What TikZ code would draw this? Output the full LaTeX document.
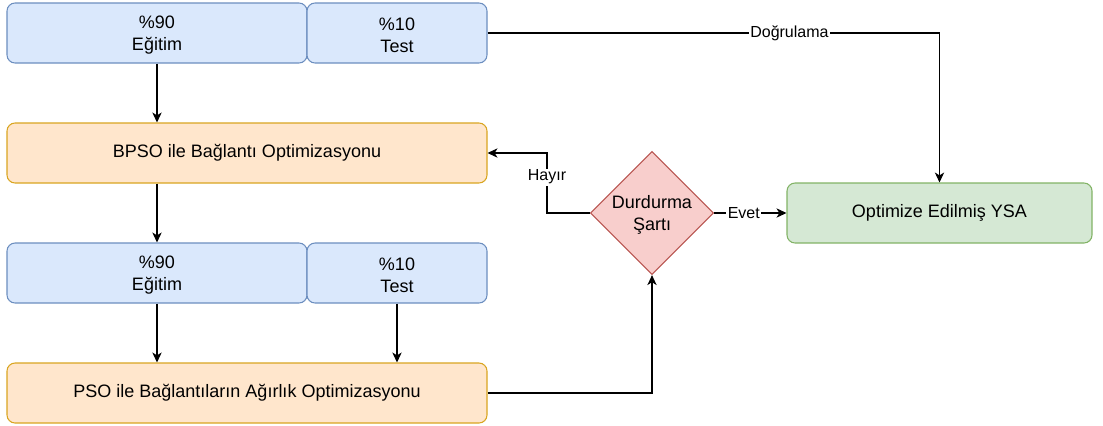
\documentclass[tikz,border=0pt]{standalone}
\usepackage{fontspec}
\setmainfont{Liberation Sans}
\usetikzlibrary{arrows.meta,shapes.geometric,calc}

\definecolor{blueFill}{HTML}{DAE8FC}
\definecolor{blueLine}{HTML}{6C8EBF}
\definecolor{orangeFill}{HTML}{FFE6CC}
\definecolor{orangeLine}{HTML}{D9A520}
\definecolor{greenFill}{HTML}{D5E8D4}
\definecolor{greenLine}{HTML}{82B366}
\definecolor{redFill}{HTML}{F8CECC}
\definecolor{redLine}{HTML}{B85450}

% a tall strut for the first of two text lines, so the pair sits centred
\newcommand{\firststrut}{\rule{0pt}{13pt}}

\tikzset{
  box/.style={rectangle, rounded corners=6pt, line width=0.8pt, align=center,
    minimum height=45pt, inner sep=0pt,
    font=\fontsize{13.5pt}{16.5pt}\selectfont},
  datasplit/.style={box, fill=blueFill, draw=blueLine},
  optbox/.style={box, fill=orangeFill, draw=orangeLine, minimum width=360pt},
  resultbox/.style={box, fill=greenFill, draw=greenLine, minimum width=228.75pt},
  decision/.style={diamond, aspect=1, fill=redFill, draw=redLine, line width=0.8pt,
    align=center, inner sep=0pt, minimum width=90pt, minimum height=90pt,
    font=\fontsize{13.5pt}{16.5pt}\selectfont},
  link/.style={draw=black, line width=0.8pt, -{Stealth[length=7.5pt,width=7pt,inset=2.2pt]}},
  edgelabel/.style={fill=white, inner sep=1pt, font=\fontsize{12pt}{14pt}\selectfont}
}

\begin{document}
\begin{tikzpicture}[x=0.75pt, y=-0.75pt]
  \useasboundingbox (0,0) rectangle (1103,425);

  % first split of the data
  \node[datasplit, minimum width=225pt] (train1) at (157,33) {\firststrut\%90\\Eğitim};
  \node[datasplit, minimum width=135pt] (test1) at (397,33) {\firststrut\%10\\Test};

  % connection optimisation
  \node[optbox] (bpso) at (247,153) {BPSO ile Bağlantı Optimizasyonu};

  % second split of the data
  \node[datasplit, minimum width=225pt] (train2) at (157,273) {\firststrut\%90\\Eğitim};
  \node[datasplit, minimum width=135pt] (test2) at (397,273) {\firststrut\%10\\Test};

  % weight optimisation
  \node[optbox] (pso) at (247,393) {PSO ile Bağlantıların Ağırlık Optimizasyonu};

  % stopping criterion and result
  \node[decision] (stop) at (652,213) {\firststrut Durdurma\\Şartı};
  \node[resultbox] (ysa) at (939.5,213) {Optimize Edilmiş YSA};

  \coordinate (back) at (547,213);

  % connectors
  \draw[link] (train1.south) -- (train1.south |- bpso.north);
  \draw[link] (train2.north |- bpso.south) -- (train2.north);
  \draw[link] (train2.south) -- (train2.south |- pso.north);
  \draw[link] (test2.south) -- (test2.south |- pso.north);
  \draw[link] (pso.east) -| (stop.south);
  \draw[link] (stop.east) -- node[edgelabel, pos=0.41] {Evet} (ysa.west);
  \draw[link] (stop.west) -- (back) |- node[edgelabel, pos=0.3] {Hayır} (bpso.east);
  \draw[link] (test1.east) -| node[edgelabel, pos=0.334] {Doğrulama} (ysa.north);
\end{tikzpicture}
\end{document}
